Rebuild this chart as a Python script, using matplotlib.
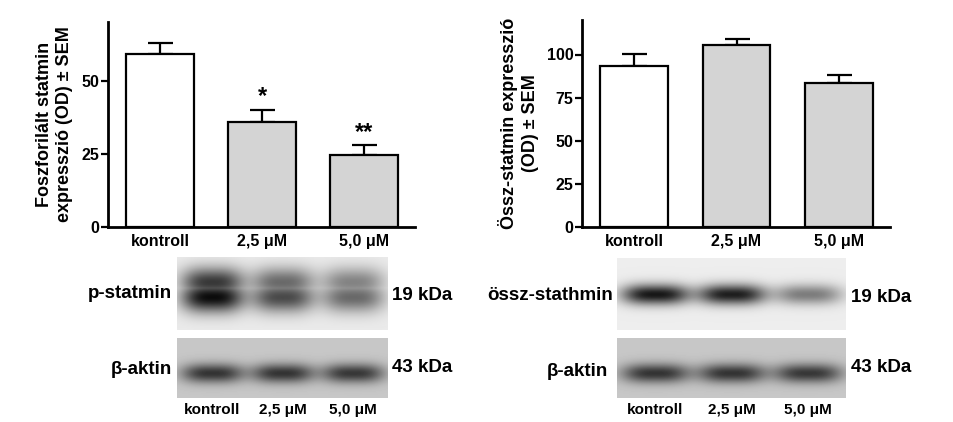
import numpy as np
import matplotlib
matplotlib.use("Agg")
import matplotlib.pyplot as plt

groups = ["kontroll", "2,5 μM", "5,0 μM"]
p_stat_mean = [59, 35.8, 24.6]
p_stat_sem = [3.8, 4.2, 3.4]
p_stat_sig = ["", "*", "**"]
ossz_mean = [93.5, 105.5, 83.5]
ossz_sem = [7.0, 3.5, 4.5]
bar_colors = ["white", "#d4d4d4", "#d4d4d4"]

# relative band darkness per lane
p_stat_band = [1.0, 0.72, 0.58]
ossz_band = [0.95, 0.92, 0.5]
actin_band = [0.78, 0.78, 0.76]

plt.rcParams["font.family"] = ["Liberation Sans", "DejaVu Sans"]
fig = plt.figure(figsize=(9.54, 4.22), dpi=100)
W, H = 954, 422


def px_axes(x0, y0, x1, y1):
    return fig.add_axes([x0 / W, 1 - y1 / H, (x1 - x0) / W, (y1 - y0) / H])


def bar_panel(ax, means, sems, ymax, yticks, ylabel, sig=None):
    x = np.arange(len(groups))
    ax.bar(x, means, width=0.66, color=bar_colors, edgecolor="black", linewidth=1.6, zorder=2)
    ax.errorbar(x, means, yerr=[np.zeros(len(sems)), sems], fmt="none", ecolor="black",
                elinewidth=1.6, capsize=9, capthick=1.6, zorder=1)
    if sig:
        for xi, m, s, t in zip(x, means, sems, sig):
            ax.text(xi, m + s + 0.5, t, ha="center", va="bottom", fontsize=17, fontweight="bold")
    ax.set_xlim(-0.51, 2.5)
    ax.set_ylim(0, ymax)
    ax.set_yticks(yticks)
    ax.set_xticks(x)
    ax.set_xticklabels(groups, fontweight="bold", fontsize=11.5)
    for lab in ax.get_yticklabels():
        lab.set_fontweight("bold")
        lab.set_fontsize(11.5)
    ax.tick_params(axis="x", length=0, pad=5)
    ax.tick_params(axis="y", width=1.6, length=5, pad=1)
    for s in ["top", "right"]:
        ax.spines[s].set_visible(False)
    for s in ["left", "bottom"]:
        ax.spines[s].set_linewidth(2)
    ax.set_ylabel(ylabel, fontweight="bold", fontsize=13, linespacing=1.25, labelpad=6)


ax1 = px_axes(108, 22, 415, 227)
bar_panel(ax1, p_stat_mean, p_stat_sem, 70, [0, 25, 50],
          "Foszforilált statmin\nexpresszió (OD) ± SEM", p_stat_sig)
ax2 = px_axes(582, 20, 890, 227)
bar_panel(ax2, ossz_mean, ossz_sem, 120, [0, 25, 50, 75, 100],
          "Össz-statmin expresszió\n(OD) ± SEM")


def blot(x0, y0, x1, y1, bands, bg, yc, sy, doublet=False):
    ax = px_axes(x0, y0, x1, y1)
    nx, ny = int(x1 - x0), int(y1 - y0)
    xx, yy = np.meshgrid(np.arange(nx), np.arange(ny))
    img = np.full((ny, nx), bg, dtype=float)
    lane_w = nx / 3
    for i, b in enumerate(bands):
        cx = (i + 0.5) * lane_w
        sx = lane_w * 0.44
        prof_x = np.exp(-((np.abs(xx - cx) / sx) ** 3))
        prof_y = np.exp(-((yy - yc * ny) / (sy * ny)) ** 2)
        if doublet:
            prof_y = np.maximum(prof_y, 0.8 * np.exp(-((yy - (yc - 0.2) * ny) / (sy * ny)) ** 2))
        img -= b * bg * 0.95 * prof_x * prof_y
    ax.imshow(np.clip(img, 0, 1), cmap="gray", vmin=0, vmax=1, aspect="auto",
              interpolation="bilinear")
    ax.set_xticks([])
    ax.set_yticks([])
    for s in ax.spines.values():
        s.set_visible(False)


blot(177, 257, 388, 330, p_stat_band, 0.92, 0.55, 0.2, doublet=True)
blot(177, 338, 388, 398, actin_band, 0.78, 0.58, 0.16)
blot(617, 258, 846, 330, ossz_band, 0.93, 0.5, 0.14)
blot(617, 338, 846, 398, actin_band, 0.78, 0.58, 0.16)

txt = dict(fontsize=13.5, fontweight="bold", va="center")
fig.text(172 / W, 1 - 293 / H, "p-statmin", ha="right", **txt)
fig.text(392 / W, 1 - 295 / H, "19 kDa", ha="left", **txt)
fig.text(172 / W, 1 - 370 / H, "β-aktin", ha="right", **txt)
fig.text(392 / W, 1 - 368 / H, "43 kDa", ha="left", **txt)
fig.text(613 / W, 1 - 295 / H, "össz-stathmin", ha="right", **txt)
fig.text(851 / W, 1 - 297 / H, "19 kDa", ha="left", **txt)
fig.text(608 / W, 1 - 372 / H, "β-aktin", ha="right", **txt)
fig.text(851 / W, 1 - 368 / H, "43 kDa", ha="left", **txt)
for x0, x1 in [(177, 388), (617, 846)]:
    lw = (x1 - x0) / 3
    for i, g in enumerate(groups):
        fig.text((x0 + (i + 0.5) * lw) / W, 1 - 410 / H, g, ha="center", va="center",
                 fontsize=11, fontweight="bold")

fig.savefig("out.png", dpi=100)
